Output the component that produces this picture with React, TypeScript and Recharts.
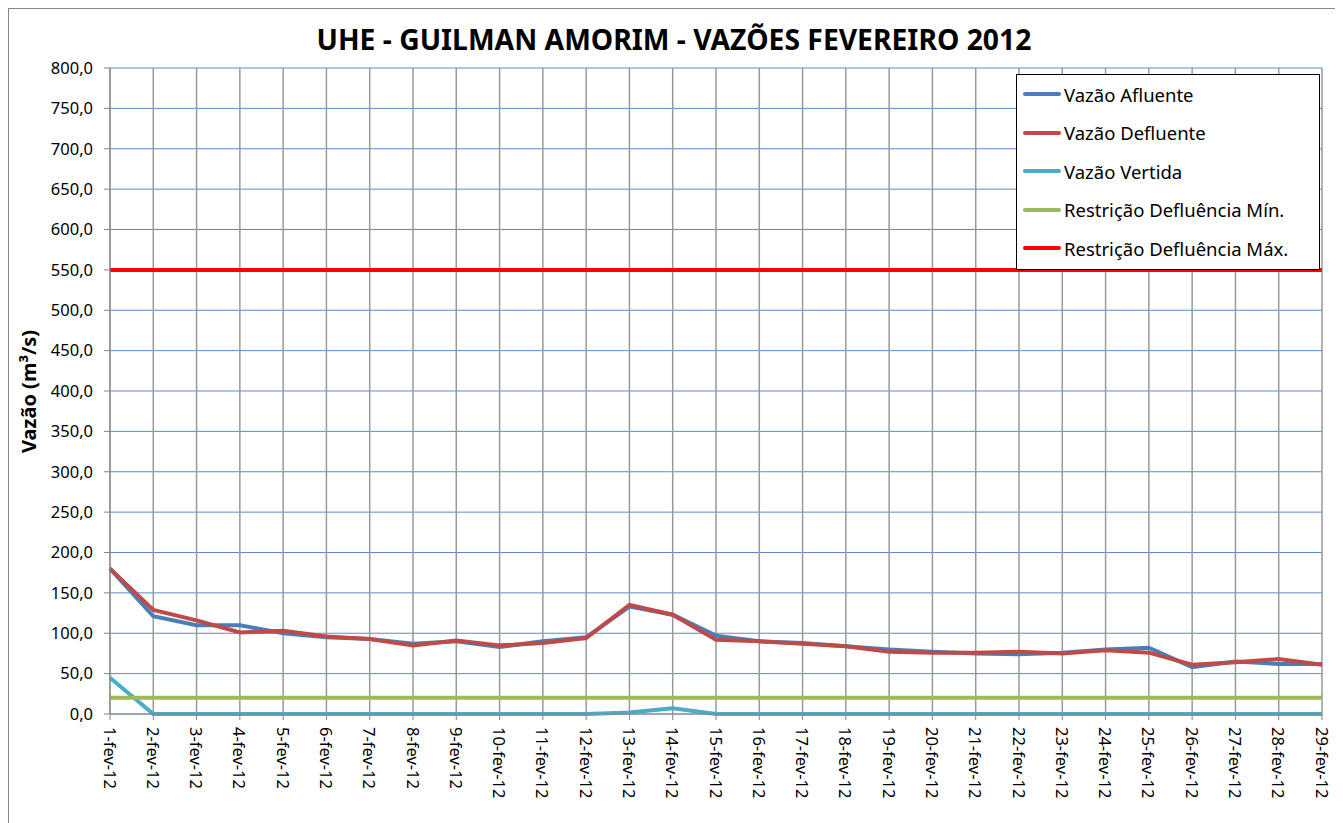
import { LineChart, Line, XAxis, YAxis, CartesianGrid } from 'recharts'

const dias = [
  '1-fev-12', '2-fev-12', '3-fev-12', '4-fev-12', '5-fev-12', '6-fev-12', '7-fev-12',
  '8-fev-12', '9-fev-12', '10-fev-12', '11-fev-12', '12-fev-12', '13-fev-12', '14-fev-12',
  '15-fev-12', '16-fev-12', '17-fev-12', '18-fev-12', '19-fev-12', '20-fev-12', '21-fev-12',
  '22-fev-12', '23-fev-12', '24-fev-12', '25-fev-12', '26-fev-12', '27-fev-12', '28-fev-12',
  '29-fev-12',
]

const afluente = [
  180, 121, 110, 110, 100, 95, 93, 87, 90, 83, 90, 95, 133, 123, 97,
  90, 88, 84, 80, 77, 75, 74, 76, 80, 82, 58, 65, 62, 62,
]

const defluente = [
  180, 129, 116, 101, 103, 96, 93, 85, 91, 85, 88, 94, 135, 123, 92,
  90, 87, 84, 77, 76, 76, 77, 75, 79, 76, 61, 64, 68, 61,
]

const vertida = [
  45, 0, 0, 0, 0, 0, 0, 0, 0, 0, 0, 0, 2, 7, 0,
  0, 0, 0, 0, 0, 0, 0, 0, 0, 0, 0, 0, 0, 0,
]

const restricaoMin = 20
const restricaoMax = 550

const yTicks = [0, 50, 100, 150, 200, 250, 300, 350, 400, 450, 500, 550, 600, 650, 700, 750, 800]

const data = dias.map((d, i) => ({
  dia: d,
  afluente: afluente[i],
  defluente: defluente[i],
  vertida: vertida[i],
  min: restricaoMin,
  max: restricaoMax,
}))

const series = [
  { key: 'afluente', name: 'Vazão Afluente', color: '#4A7EBB' },
  { key: 'defluente', name: 'Vazão Defluente', color: '#BE4B48' },
  { key: 'vertida', name: 'Vazão Vertida', color: '#4BACC6' },
  { key: 'min', name: 'Restrição Defluência Mín.', color: '#9BBB59' },
  { key: 'max', name: 'Restrição Defluência Máx.', color: '#FF0000' },
]

const font = '"Noto Sans", sans-serif'
const fmt = (v: number) => v.toFixed(1).replace('.', ',')

const XTick = ({ x, y, payload }: any) => (
  <text
    x={x}
    y={y + 5}
    transform={`rotate(90 ${x} ${y + 5})`}
    textAnchor="start"
    dominantBaseline="central"
    fontSize={16.5}
    fontFamily={font}
    fill="#000"
  >
    {payload.value}
  </text>
)

// legenda fora do LineChart para não encolher a área do gráfico
const LegendBox = () => (
  <div style={{
    position: 'absolute', top: 65, left: 1007, width: 290,
    border: '1px solid #000', background: '#fff', padding: '0 6px 1px 6px', fontFamily: font,
  }}>
    {series.map(s => (
      <div key={s.key} style={{ display: 'flex', alignItems: 'center', height: 38.5, fontSize: 18.5 }}>
        <span style={{ display: 'inline-block', width: 38, height: 4, background: s.color, marginRight: 3, borderRadius: 2 }} />
        <span>{s.name}</span>
      </div>
    ))}
  </div>
)

export default function App() {
  return (
    <div style={{ position: 'relative', width: 1328, height: 830, border: '1px solid #888', borderBottom: 'none', boxSizing: 'border-box', background: '#fff' }}>
      <style>{'body{overflow:hidden}'}</style>
      <div style={{
        position: 'absolute', top: 11, left: 2, width: '100%', textAlign: 'center',
        fontFamily: font, fontWeight: 'bold', fontSize: 28.3, color: '#000',
      }}>
        UHE - GUILMAN AMORIM - VAZÕES FEVEREIRO 2012
      </div>
      <LineChart width={1326} height={812} data={data} margin={{ top: 59, right: 13, bottom: 27, left: 41 }}>
        <CartesianGrid vertical={false} stroke="#5B8BC9" strokeWidth={1} />
        <CartesianGrid horizontal={false} stroke="#999" strokeWidth={1.5} />
        <XAxis
          dataKey="dia"
          interval={0}
          height={80}
          tick={<XTick />}
          tickSize={6}
          stroke="#868686"
        />
        <YAxis
          domain={[0, 800]}
          ticks={yTicks}
          width={60}
          tickFormatter={fmt}
          tickSize={6}
          tickMargin={11}
          stroke="#868686"
          tick={{ fill: '#000', fontSize: 16.5, fontFamily: font }}
          label={{
            value: 'Vazão (m³/s)', angle: -90, position: 'insideLeft', dx: -26, dy: 62,
            style: { fill: '#000', fontSize: 20, fontWeight: 'bold', fontFamily: font },
          }}
        />
        {series.map(s => (
          <Line
            key={s.key}
            dataKey={s.key}
            name={s.name}
            stroke={s.color}
            strokeWidth={4}
            dot={false}
            activeDot={false}
            type="linear"
            isAnimationActive={false}
          />
        ))}
      </LineChart>
      <LegendBox />
    </div>
  )
}
